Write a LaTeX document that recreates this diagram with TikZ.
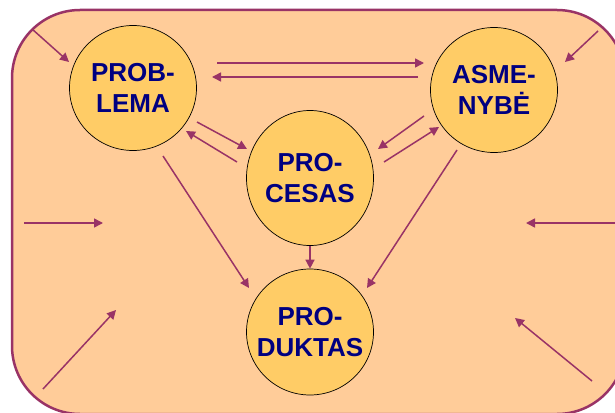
\documentclass[tikz,border=0pt]{standalone}
\usepackage{fontspec}
\setmainfont{Liberation Sans}
\usetikzlibrary{arrows.meta,shapes.geometric}
\definecolor{Peach}{HTML}{FFCC99}
\definecolor{Plum}{HTML}{993366}
\definecolor{Gold}{HTML}{FFCC66}
\definecolor{Navy}{HTML}{000080}
\tikzset{
  framebox/.style={draw=Plum,fill=Peach,line width=2.5pt,rounded corners=68pt},
  idea/.style={ellipse,draw=black,line width=0.7pt,fill=Gold,minimum width=127pt,minimum height=125pt,inner sep=0pt,align=center,font=\fontsize{26}{31}\selectfont\bfseries,text=Navy},
  link/.style={-{Triangle[length=9pt,width=9pt]},draw=Plum,line width=1.5pt}
}
\begin{document}
\begin{tikzpicture}[x=1pt,y=-1pt]
  \useasboundingbox (0,0) rectangle (615,412);
  \draw[framebox] (12,10) rectangle (625,414);
  \node[idea] (problema) at (133,88) {PROB-\\LEMA};
  \node[idea] (asmenybe) at (494,90) {ASME-\\NYBĖ};
  \node[idea,minimum height=135pt] (procesas) at (310,178) {PRO-\\CESAS};
  \node[idea,minimum height=126pt,inner xsep=-12pt] (produktas) at (310,332) {PRO-\\DUKTAS};
  \coordinate (tlA) at (32,29);   \coordinate (tlB) at (69,62);
  \coordinate (trA) at (598,31);  \coordinate (trB) at (565,62);
  \coordinate (mlA) at (24,223);  \coordinate (mlB) at (103,223);
  \coordinate (mrA) at (615,223); \coordinate (mrB) at (526,223);
  \coordinate (blA) at (43,389);  \coordinate (blB) at (116,310);
  \coordinate (brA) at (592,381); \coordinate (brB) at (515,318);
  \draw[link] (tlA) -- (tlB);
  \draw[link] (trA) -- (trB);
  \draw[link] (mlA) -- (mlB);
  \draw[link] (mrA) -- (mrB);
  \draw[link] (blA) -- (blB);
  \draw[link] (brA) -- (brB);
  \draw[link] ([shift={(84,-25)}]problema.center) -- ([shift={(-70,-27)}]asmenybe.center);
  \draw[link] ([shift={(-76,-13)}]asmenybe.center) -- ([shift={(79,-11)}]problema.center);
  \draw[link] ([shift={(64,34)}]problema.center) -- ([shift={(-63,-29)}]procesas.center);
  \draw[link] ([shift={(-73,-16)}]procesas.center) -- ([shift={(53,43)}]problema.center);
  \draw[link] ([shift={(-70,26)}]asmenybe.center) -- ([shift={(68,-29)}]procesas.center);
  \draw[link] ([shift={(74,-16)}]procesas.center) -- ([shift={(-55,37)}]asmenybe.center);
  \draw[link] ([shift={(30,68)}]problema.center) -- ([shift={(-61,-44)}]produktas.center);
  \draw[link] ([shift={(-37,60)}]asmenybe.center) -- ([shift={(57,-44)}]produktas.center);
  \draw[link] (procesas.south) -- (produktas.north);
\end{tikzpicture}
\end{document}
